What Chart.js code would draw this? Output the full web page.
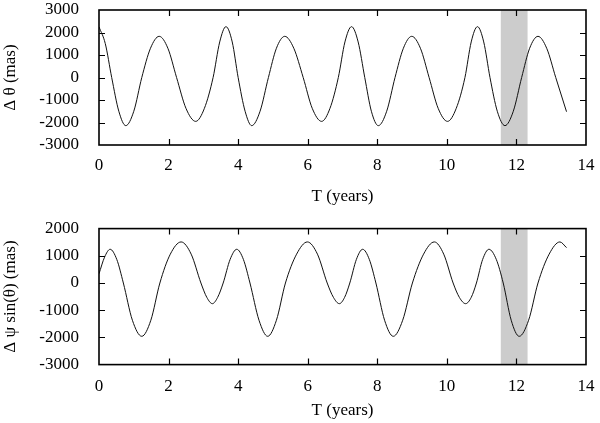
<!DOCTYPE html>
<html>
<head>
<meta charset="utf-8">
<script src="https://cdn.jsdelivr.net/npm/chart.js@4"></script>
<style>
html,body{margin:0;padding:0;background:#fff;}
#wrap{position:relative;width:600px;height:423px;overflow:hidden;background:#fff;}
canvas{position:absolute;left:0;}
</style>
</head>
<body>
<div id="wrap">
<canvas id="c1" width="600" height="211" style="top:0;width:600px;height:211px"></canvas>
<canvas id="c2" width="600" height="212" style="top:211px;width:600px;height:212px"></canvas>
</div>
<script>
// ---- data ----
const timeTop = [0.00,0.18,0.365,0.57,0.77,1.00,1.23,1.48,1.73,1.98,2.23,2.50,2.78,3.03,3.28,3.47,3.65,3.83,4.00,4.20,4.39,4.63,4.87,5.10,5.34,5.60,5.87,6.13,6.40,6.64,6.88,7.07,7.26,7.45,7.64,7.83,8.03,8.27,8.51,8.75,8.99,9.24,9.49,9.75,10.02,10.27,10.52,10.70,10.88,11.06,11.24,11.45,11.67,11.91,12.15,12.38,12.62,12.87,13.13,13.44];
const deltaTheta = [2250,1510,0,-1500,-2140,-1500,0,1300,1830,1300,0,-1370,-1950,-1370,0,1580,2260,1580,0,-1500,-2140,-1500,0,1300,1830,1300,0,-1370,-1950,-1370,0,1580,2260,1580,0,-1500,-2140,-1500,0,1300,1830,1300,0,-1370,-1950,-1370,0,1580,2260,1580,0,-1500,-2140,-1500,0,1300,1830,1300,0,-1520];

const timeBottom = [0.00,0.16,0.32,0.51,0.70,0.96,1.23,1.49,1.75,2.05,2.36,2.65,2.93,3.10,3.26,3.41,3.57,3.77,3.96,4.15,4.34,4.60,4.85,5.10,5.36,5.68,5.99,6.28,6.56,6.74,6.91,7.06,7.21,7.40,7.58,7.77,7.96,8.21,8.46,8.73,9.01,9.33,9.64,9.91,10.18,10.36,10.54,10.70,10.85,11.03,11.21,11.42,11.62,11.85,12.08,12.35,12.62,12.94,13.25,13.44];
const deltaPsiSin = [340,950,1240,870,0,-1370,-1960,-1370,0,1060,1510,1060,0,-530,-760,-530,0,870,1240,870,0,-1370,-1960,-1370,0,1060,1510,1060,0,-530,-760,-530,0,870,1240,870,0,-1370,-1960,-1370,0,1060,1510,1060,0,-530,-760,-530,0,870,1240,870,0,-1370,-1960,-1370,0,1060,1510,1300];

const shadeSpan = [11.55, 12.32];
const xTickRange = [0, 14, 2];
const yTopRange = [-3000, 3000, 1000];
const yBottomRange = [-3000, 2000, 1000];

const FONT = {family: '"Liberation Serif","DejaVu Serif",serif', size: 17};

const shadePlugin = {
  id: 'shade',
  beforeDatasetsDraw(chart) {
    const {ctx, chartArea: a, scales: {x}} = chart;
    const x0 = x.getPixelForValue(shadeSpan[0]);
    const x1 = x.getPixelForValue(shadeSpan[1]);
    ctx.save();
    ctx.fillStyle = '#cccccc';
    ctx.fillRect(x0, a.top, x1 - x0, a.bottom - a.top);
    ctx.restore();
  }
};

const framePlugin = {
  id: 'frame',
  afterDraw(chart) {
    const {ctx, chartArea: a, scales: {x, y}} = chart;
    ctx.save();
    ctx.strokeStyle = '#000';
    ctx.lineWidth = 1.2;
    const L = 6;
    ctx.beginPath();
    for (let v = xTickRange[0]; v <= xTickRange[1]; v += xTickRange[2]) {
      const px = Math.round(x.getPixelForValue(v)) + 0.5;
      if (px <= a.left + 2 || px >= a.right - 2) continue;
      ctx.moveTo(px, a.bottom); ctx.lineTo(px, a.bottom - L);
      ctx.moveTo(px, a.top); ctx.lineTo(px, a.top + L);
    }
    for (let v = y.min; v <= y.max; v += 1000) {
      const py = Math.round(y.getPixelForValue(v)) + 0.5;
      if (py <= a.top + 2 || py >= a.bottom - 2) continue;
      ctx.moveTo(a.left, py); ctx.lineTo(a.left + L, py);
      ctx.moveTo(a.right, py); ctx.lineTo(a.right - L, py);
    }
    ctx.stroke();
    ctx.lineWidth = 1.6;
    ctx.strokeRect(a.left, a.top, a.right - a.left, a.bottom - a.top);
    ctx.restore();
  }
};

function makeChart(id, xs, ys, yRange, yTitle, opts) {
  const pts = xs.map((v, i) => ({x: v, y: ys[i]}));
  return new Chart(document.getElementById(id), {
    type: 'line',
    data: {datasets: [{
      data: pts,
      borderColor: '#111',
      borderWidth: 1,
      pointRadius: 0,
      fill: false,
      cubicInterpolationMode: 'monotone'
    }]},
    options: {
      responsive: false,
      animation: false,
      devicePixelRatio: 1,
      layout: {padding: {top: opts.padTop, right: 14, left: 0, bottom: 0}},
      plugins: {legend: {display: false}, tooltip: {enabled: false}},
      scales: {
        x: {
          type: 'linear',
          min: xTickRange[0], max: xTickRange[1],
          grid: {display: false},
          border: {display: false},
          ticks: {stepSize: xTickRange[2], font: FONT, color: '#000', padding: opts.xTickPad, maxRotation: 0, autoSkip: false,
                  callback: v => String(v)},
          title: {display: true, text: 'T (years)', font: FONT, color: '#000', padding: {top: 0, bottom: opts.xTitlePad}},
          afterFit: s => { s.height = opts.xHeight; s.paddingLeft = 0; s.paddingRight = 0; }
        },
        y: {
          type: 'linear',
          min: yRange[0], max: yRange[1],
          grid: {display: false},
          border: {display: false},
          ticks: {stepSize: yRange[2], font: FONT, color: '#000', padding: 12, autoSkip: false,
                  callback: v => String(v)},
          title: {display: true, text: yTitle, font: FONT, color: '#000', padding: {top: 0, bottom: 0}},
          afterFit: s => { s.width = 99; s.paddingTop = 0; s.paddingBottom = 0; }
        }
      }
    },
    plugins: [shadePlugin, framePlugin]
  });
}

makeChart('c1', timeTop, deltaTheta, yTopRange, 'Δ θ (mas)', {padTop: 10, xHeight: 66, xTickPad: 2, xTitlePad: 4.5});
makeChart('c2', timeBottom, deltaPsiSin, yBottomRange, 'Δ ψ sin(θ) (mas)', {padTop: 17.6, xHeight: 58.4, xTickPad: 4, xTitlePad: 2.5});
</script>
</body>
</html>
